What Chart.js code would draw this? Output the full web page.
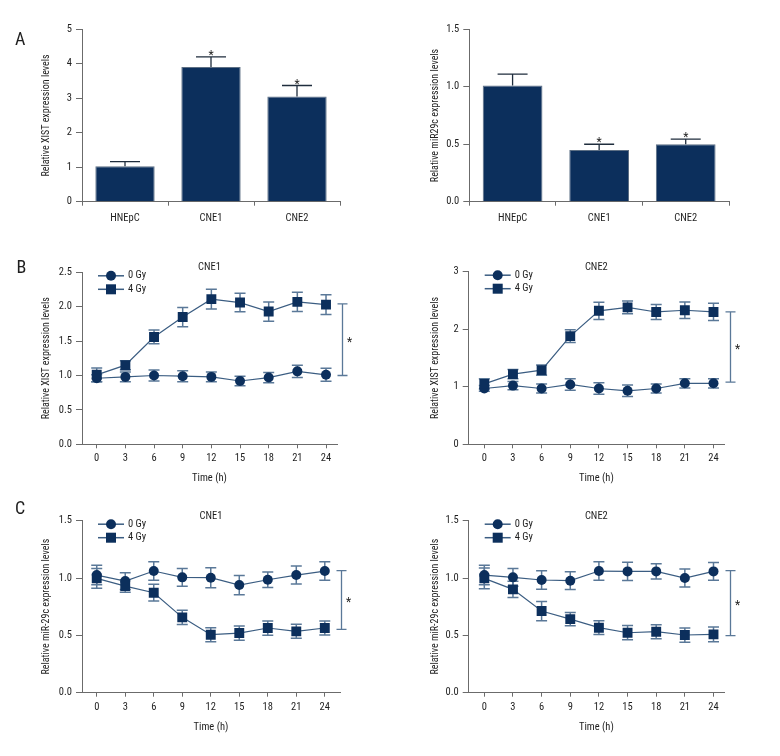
<!DOCTYPE html>
<html><head><meta charset="utf-8">
<script src="https://cdn.jsdelivr.net/npm/chart.js@4.4.1/dist/chart.umd.min.js"></script>
<style>
html,body{margin:0;padding:0;background:#fff}
body{width:780px;height:756px;position:relative;overflow:hidden}
canvas{position:absolute}
</style></head>
<body>
<canvas id="a1" width="390" height="240" style="left:0;top:0"></canvas>
<canvas id="a2" width="390" height="240" style="left:390px;top:0"></canvas>
<canvas id="b1" width="390" height="250" style="left:0;top:240px"></canvas>
<canvas id="b2" width="390" height="250" style="left:390px;top:240px"></canvas>
<canvas id="c1" width="390" height="266" style="left:0;top:490px"></canvas>
<canvas id="c2" width="390" height="266" style="left:390px;top:490px"></canvas>
<script>
// ---------- data ----------
const barCategories = ['HNEpC', 'CNE1', 'CNE2'];
const xistLevels = [1.03, 3.91, 3.05];
const xistErrors = [0.13, 0.29, 0.32];
const mir29cLevels = [1.01, 0.45, 0.50];
const mir29cErrors = [0.10, 0.05, 0.045];
const barSignificant = [false, true, true];

const timePoints = [0, 3, 6, 9, 12, 15, 18, 21, 24];
const doseLabels = ['0 Gy', '4 Gy'];

const xistCne1Gy0 = [0.96, 0.98, 1.00, 0.99, 0.98, 0.92, 0.97, 1.06, 1.01];
const xistCne1Gy0Err = [0.05, 0.07, 0.08, 0.08, 0.07, 0.07, 0.075, 0.09, 0.095];
const xistCne1Gy4 = [1.01, 1.15, 1.56, 1.85, 2.11, 2.06, 1.93, 2.07, 2.03];
const xistCne1Gy4Err = [0.10, 0.065, 0.10, 0.14, 0.145, 0.135, 0.14, 0.14, 0.145];
const xistCne1Bracket = [1.00, 2.04];

const xistCne2Gy0 = [0.97, 1.02, 0.97, 1.04, 0.97, 0.93, 0.97, 1.06, 1.06];
const xistCne2Gy0Err = [0.05, 0.07, 0.08, 0.10, 0.10, 0.10, 0.08, 0.08, 0.08];
const xistCne2Gy4 = [1.05, 1.22, 1.29, 1.88, 2.32, 2.38, 2.30, 2.33, 2.30];
const xistCne2Gy4Err = [0.09, 0.08, 0.09, 0.11, 0.15, 0.11, 0.13, 0.145, 0.15];
const xistCne2Bracket = [1.08, 2.30];

const mirCne1Gy0 = [1.026, 0.974, 1.061, 1.006, 1.003, 0.939, 0.985, 1.026, 1.061];
const mirCne1Gy0Err = [0.085, 0.073, 0.08, 0.078, 0.087, 0.084, 0.068, 0.079, 0.081];
const mirCne1Gy4 = [0.997, 0.93, 0.872, 0.657, 0.506, 0.52, 0.564, 0.535, 0.564];
const mirCne1Gy4Err = [0.087, 0.055, 0.073, 0.062, 0.061, 0.062, 0.062, 0.061, 0.061];
const mirCne1Bracket = [0.552, 1.064];

const mirCne2Gy0 = [1.026, 1.006, 0.983, 0.977, 1.061, 1.058, 1.058, 1.0, 1.058];
const mirCne2Gy0Err = [0.085, 0.078, 0.08, 0.077, 0.08, 0.08, 0.067, 0.078, 0.078];
const mirCne2Gy4 = [0.997, 0.901, 0.712, 0.642, 0.567, 0.523, 0.532, 0.503, 0.509];
const mirCne2Gy4Err = [0.09, 0.071, 0.084, 0.058, 0.06, 0.062, 0.061, 0.062, 0.064];
const mirCne2Bracket = [0.497, 1.064];

const bracketTime = 25.7;

const ticksXistBar = [0, 1, 2, 3, 4, 5];
const ticksHalf15 = [0, 0.5, 1.0, 1.5];
const ticksHalf25 = [0, 0.5, 1.0, 1.5, 2.0, 2.5];
const ticksInt3 = [0, 1, 2, 3];

// ---------- style ----------
const FONT = "'Roboto Condensed', Roboto, sans-serif";
const NAVY = '#0c2f5c';
const LINE = '#3b5d82';
const ERRC = '#5a7898';
const AXIS = '#6b6b6b';
const TXT = '#1e1e1e';
const BAR_ERR = '#1f2d3d';

const extras = {
  id: 'extras',
  beforeDatasetsDraw(chart, args, o) {
    if (!o.lineErrors) return;
    const ctx = chart.ctx, xs = chart.scales.x, ys = chart.scales.y;
    ctx.save();
    ctx.strokeStyle = ERRC; ctx.lineWidth = 1.5;
    chart.data.datasets.forEach((ds, i) => {
      const errs = o.lineErrors[i];
      ds.data.forEach((p, j) => {
        const x = xs.getPixelForValue(p.x);
        const yt = ys.getPixelForValue(p.y + errs[j]);
        const yb = ys.getPixelForValue(p.y - errs[j]);
        ctx.beginPath();
        ctx.moveTo(x, yt); ctx.lineTo(x, yb);
        ctx.moveTo(x - 5.5, yt); ctx.lineTo(x + 5.5, yt);
        ctx.moveTo(x - 5.5, yb); ctx.lineTo(x + 5.5, yb);
        ctx.stroke();
      });
    });
    ctx.restore();
  },
  afterDatasetsDraw(chart, args, o) {
    const ctx = chart.ctx, ys = chart.scales.y;
    if (o.barErrors) {
      const meta = chart.getDatasetMeta(0);
      const vals = chart.data.datasets[0].data;
      ctx.save();
      ctx.strokeStyle = BAR_ERR; ctx.lineWidth = 1.3;
      meta.data.forEach((bar, j) => {
        const x = bar.x;
        const y0 = ys.getPixelForValue(vals[j]);
        const yt = ys.getPixelForValue(vals[j] + o.barErrors[j]);
        ctx.beginPath();
        ctx.moveTo(x, y0); ctx.lineTo(x, yt);
        ctx.moveTo(x - 15, yt); ctx.lineTo(x + 15, yt);
        ctx.stroke();
        if (o.sig && o.sig[j]) {
          ctx.fillStyle = TXT;
          ctx.font = '12px ' + FONT;
          ctx.textAlign = 'center'; ctx.textBaseline = 'alphabetic';
          ctx.fillText('*', x, yt + 2);
        }
      });
      ctx.restore();
    }
  },
  afterDraw(chart, args, o) {
    const ctx = chart.ctx, ca = chart.chartArea;
    ctx.save();
    if (o.letter) {
      ctx.fillStyle = TXT; ctx.font = '18px ' + FONT;
      ctx.textAlign = 'left'; ctx.textBaseline = 'alphabetic';
      ctx.fillText(o.letter, o.letterPos[0], o.letterPos[1]);
    }
    if (o.title) {
      ctx.fillStyle = TXT; ctx.font = '10.5px ' + FONT;
      ctx.textAlign = 'center'; ctx.textBaseline = 'middle';
      ctx.fillText(o.title, (ca.left + ca.right) / 2, ca.top - 4.5);
    }
    if (o.legend) {
      chart.data.datasets.forEach((ds, i) => {
        const y = ca.top + 3.5 + i * 13.5;
        ctx.strokeStyle = ds.borderColor; ctx.lineWidth = 1.5;
        ctx.beginPath(); ctx.moveTo(ca.left + 16, y); ctx.lineTo(ca.left + 42, y); ctx.stroke();
        ctx.fillStyle = ds.pointBackgroundColor;
        const mx = ca.left + 29;
        if (ds.pointStyle === 'circle') {
          ctx.beginPath(); ctx.arc(mx, y, 5, 0, Math.PI * 2); ctx.fill();
        } else {
          ctx.fillRect(mx - 5, y - 5, 10, 10);
        }
        ctx.fillStyle = TXT; ctx.font = '10.5px ' + FONT;
        ctx.textAlign = 'left'; ctx.textBaseline = 'middle';
        ctx.fillText(ds.label, ca.left + 46, y);
      });
    }
    if (o.bracket) {
      const xs = chart.scales.x, ys = chart.scales.y;
      const xb = Math.round(xs.getPixelForValue(o.bracketX)) + 0.5;
      const y1 = ys.getPixelForValue(o.bracket[0]);
      const y2 = ys.getPixelForValue(o.bracket[1]);
      ctx.strokeStyle = ERRC; ctx.lineWidth = 1.3;
      ctx.beginPath();
      ctx.moveTo(xb, y1); ctx.lineTo(xb, y2);
      ctx.moveTo(xb - 5, y1); ctx.lineTo(xb + 5, y1);
      ctx.moveTo(xb - 5, y2); ctx.lineTo(xb + 5, y2);
      ctx.stroke();
      ctx.fillStyle = TXT; ctx.font = '12px ' + FONT;
      ctx.textAlign = 'center'; ctx.textBaseline = 'alphabetic';
      ctx.fillText('*', xb + 7, (y1 + y2) / 2 + 6);
    }
    ctx.restore();
  }
};
Chart.register(extras);

function yAxis(min, max, ticks, fmt, title, width, titlePad) {
  return {
    type: 'linear', min: min, max: max,
    afterBuildTicks: s => { s.ticks = ticks.map(v => ({ value: v })); },
    afterFit: s => { s.width = width; },
    grid: { drawOnChartArea: false, drawTicks: true, tickLength: 6, tickColor: AXIS, tickWidth: 1 },
    border: { display: true, color: AXIS, width: 1 },
    ticks: { color: TXT, font: { family: FONT, size: 10.5 }, padding: 4, callback: v => fmt(v) },
    title: { display: true, text: title, color: TXT, font: { family: FONT, size: 10 }, padding: { top: titlePad, bottom: 0 } }
  };
}
const fmt1 = v => Number(v).toFixed(1);
const fmt0 = v => String(Math.round(v));

function barChart(id, values, errors, ticks, fmt, ymax, yTitle, area, letter) {
  new Chart(document.getElementById(id), {
    type: 'bar',
    data: {
      labels: barCategories,
      datasets: [{ data: values, backgroundColor: NAVY, borderColor: '#5d6f84', borderWidth: 1,
        categoryPercentage: 1.0, barPercentage: 0.69 }]
    },
    options: {
      responsive: false, animation: false,
      layout: { padding: { left: 0, top: area.top, right: 390 - area.right, bottom: 0 } },
      scales: {
        x: {
          afterFit: s => { s.height = 240 - area.bottom; },
          grid: { drawOnChartArea: false, drawTicks: true, tickLength: 4, tickColor: AXIS, offset: true },
          border: { display: true, color: AXIS, width: 1 },
          ticks: { color: TXT, font: { family: FONT, size: 10.5 }, padding: 6, maxRotation: 0 }
        },
        y: yAxis(0, ymax, ticks, fmt, yTitle, area.left, area.titleX - 6)
      },
      plugins: {
        legend: { display: false }, tooltip: { enabled: false },
        extras: { barErrors: errors, sig: barSignificant, letter: letter, letterPos: [15, 45] }
      }
    }
  });
}

function lineChart(id, H, gy0, gy0e, gy4, gy4e, ticks, fmt, ymax, yTitle, area, title, bracket, letter, letterPos) {
  const pts = arr => timePoints.map((t, i) => ({ x: t, y: arr[i] }));
  new Chart(document.getElementById(id), {
    type: 'line',
    data: {
      datasets: [
        { label: doseLabels[0], data: pts(gy0), borderColor: LINE, borderWidth: 1.2, tension: 0,
          pointStyle: 'circle', pointRadius: 5, pointBackgroundColor: NAVY, pointBorderColor: NAVY, pointBorderWidth: 0, order: 1 },
        { label: doseLabels[1], data: pts(gy4), borderColor: LINE, borderWidth: 1.2, tension: 0,
          pointStyle: 'rect', pointRadius: 7, pointBackgroundColor: NAVY, pointBorderColor: NAVY, pointBorderWidth: 0, order: 0 }
      ]
    },
    options: {
      responsive: false, animation: false,
      layout: { padding: { left: 0, top: area.top, right: 390 - area.right, bottom: 0 } },
      scales: {
        x: {
          type: 'linear', min: area.xmin, max: area.xmax,
          afterBuildTicks: s => { s.ticks = timePoints.map(v => ({ value: v })); },
          afterFit: s => { s.height = H - area.bottom; },
          grid: { drawOnChartArea: false, drawTicks: true, tickLength: 4, tickColor: AXIS },
          border: { display: true, color: AXIS, width: 1 },
          ticks: { color: TXT, font: { family: FONT, size: 10.5 }, padding: 4, maxRotation: 0, autoSkip: false, callback: v => String(v) },
          title: { display: true, text: 'Time (h)', color: TXT, font: { family: FONT, size: 10.5 }, padding: { top: 0, bottom: H - area.xTitleY - 6.3 } }
        },
        y: yAxis(0, ymax, ticks, fmt, yTitle, area.left, area.titleX - 6)
      },
      plugins: {
        legend: { display: false }, tooltip: { enabled: false },
        extras: { lineErrors: [gy0e, gy4e], title: title, legend: true, bracket: bracket, bracketX: bracketTime,
          letter: letter, letterPos: letterPos }
      }
    }
  });
}

barChart('a1', xistLevels, xistErrors, ticksXistBar, fmt0, 5, 'Relative XIST expression levels',
  { left: 82, right: 340, top: 29.3, bottom: 201.7, titleX: 46.7 }, 'A');
barChart('a2', mir29cLevels, mir29cErrors, ticksHalf15, fmt1, 1.5, 'Relative miR29c expression levels',
  { left: 79.3, right: 339, top: 29.3, bottom: 201.7, titleX: 45 }, null);

lineChart('b1', 250, xistCne1Gy0, xistCne1Gy0Err, xistCne1Gy4, xistCne1Gy4Err, ticksHalf25, fmt1, 2.5,
  'Relative XIST expression levels',
  { left: 82, right: 337, top: 32.3, bottom: 204.3, titleX: 46.7, xmin: -1.54, xmax: 25.15, xTitleY: 238 },
  'CNE1', xistCne1Bracket, 'B', [16.5, 33.3]);
lineChart('b2', 250, xistCne2Gy0, xistCne2Gy0Err, xistCne2Gy4, xistCne2Gy4Err, ticksInt3, fmt0, 3,
  'Relative XIST expression levels',
  { left: 78.7, right: 334, top: 31.7, bottom: 204.3, titleX: 45, xmin: -1.635, xmax: 25.1, xTitleY: 238 },
  'CNE2', xistCne2Bracket, null, null);
lineChart('c1', 266, mirCne1Gy0, mirCne1Gy0Err, mirCne1Gy4, mirCne1Gy4Err, ticksHalf15, fmt1, 1.5,
  'Relative miR-29c expression levels',
  { left: 82, right: 340, top: 30.7, bottom: 202.7, titleX: 46.7, xmin: -1.55, xmax: 25.6, xTitleY: 237 },
  'CNE1', mirCne1Bracket, 'C', [15, 24]);
lineChart('c2', 266, mirCne2Gy0, mirCne2Gy0Err, mirCne2Gy4, mirCne2Gy4Err, ticksHalf15, fmt1, 1.5,
  'Relative miR-29c expression levels',
  { left: 78.7, right: 334, top: 30.7, bottom: 202.7, titleX: 45, xmin: -1.635, xmax: 25.1, xTitleY: 237 },
  'CNE2', mirCne2Bracket, null, null);
</script>
</body></html>
